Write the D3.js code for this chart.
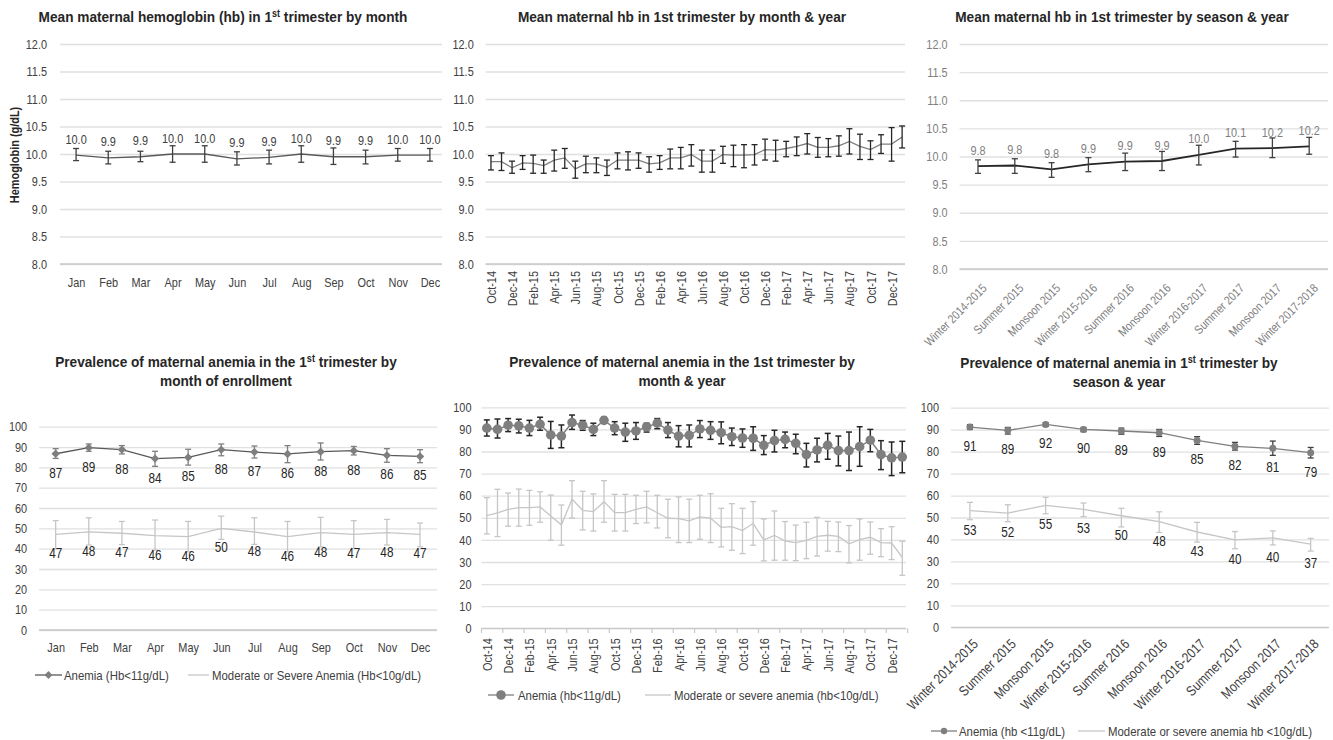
<!DOCTYPE html>
<html><head><meta charset="utf-8">
<script src="https://cdn.jsdelivr.net/npm/d3@7"></script>
<style>
body{margin:0;background:#fff}
svg{display:block}
text{font-family:"Liberation Sans",Arial,sans-serif}
</style>
</head><body>
<svg id="c" width="1333" height="740"></svg>
<script>
// ---------- DATA ----------
const months = ["Jan","Feb","Mar","Apr","May","Jun","Jul","Aug","Sep","Oct","Nov","Dec"];
const hbMonth   = [9.98,9.93,9.95,10.0,10.0,9.91,9.94,10.0,9.95,9.95,9.98,9.98];
const hbMonthHi = [10.10,10.05,10.05,10.15,10.15,10.04,10.07,10.15,10.11,10.07,10.10,10.10];
const hbMonthLo = [9.88,9.82,9.86,9.85,9.85,9.80,9.82,9.85,9.81,9.82,9.87,9.87];
const hbMonthLabels = ["10.0","9.9","9.9","10.0","10.0","9.9","9.9","10.0","9.9","9.9","10.0","10.0"];

const monthsYear = ["Oct-14","Nov-14","Dec-14","Jan-15","Feb-15","Mar-15","Apr-15","May-15","Jun-15","Jul-15","Aug-15","Sep-15","Oct-15","Nov-15","Dec-15","Jan-16","Feb-16","Mar-16","Apr-16","May-16","Jun-16","Jul-16","Aug-16","Sep-16","Oct-16","Nov-16","Dec-16","Jan-17","Feb-17","Mar-17","Apr-17","May-17","Jun-17","Jul-17","Aug-17","Sep-17","Oct-17","Nov-17","Dec-17","Jan-18"];
const hbMY   = [9.86,9.86,9.75,9.84,9.83,9.79,9.89,9.93,9.73,9.82,9.82,9.76,9.89,9.89,9.89,9.82,9.84,9.93,9.93,9.99,9.87,9.87,9.99,9.98,9.98,9.99,10.08,10.07,10.10,10.14,10.19,10.12,10.12,10.15,10.23,10.14,10.08,10.18,10.18,10.31];
const hbMYHi = [9.97,10.02,9.87,9.97,9.98,9.89,10.07,10.10,9.87,9.96,9.93,9.89,10.02,10.04,10.02,9.95,9.97,10.09,10.12,10.17,10.07,10.07,10.14,10.16,10.17,10.17,10.27,10.25,10.23,10.31,10.37,10.30,10.28,10.33,10.46,10.36,10.24,10.35,10.48,10.51];
const hbMYLo = [9.71,9.70,9.65,9.72,9.65,9.65,9.69,9.74,9.56,9.66,9.66,9.61,9.73,9.71,9.74,9.67,9.72,9.73,9.73,9.78,9.67,9.67,9.83,9.77,9.75,9.80,9.89,9.87,9.95,9.97,10.00,9.94,9.95,9.96,10.00,9.90,9.90,10.01,9.87,10.11];

const seasons = ["Winter 2014-2015","Summer 2015","Monsoon 2015","Winter 2015-2016","Summer 2016","Monsoon 2016","Winter 2016-2017","Summer 2017","Monsoon 2017","Winter 2017-2018"];
const hbSeason   = [9.83,9.84,9.77,9.86,9.91,9.92,10.03,10.14,10.15,10.18];
const hbSeasonHi = [9.94,9.96,9.89,9.98,10.06,10.09,10.20,10.27,10.33,10.34];
const hbSeasonLo = [9.70,9.70,9.63,9.73,9.75,9.75,9.85,9.99,9.98,10.04];
const hbSeasonLabels = ["9.8","9.8","9.8","9.9","9.9","9.9","10.0","10.1","10.2","10.2"];

const anemiaMonth   = [86.7,89.7,88.7,84.3,84.9,88.7,87.5,86.6,87.7,88.2,85.9,85.4];
const anemiaMonthHi = [89.2,91.5,90.7,87.9,88.9,91.5,90.5,90.7,92.0,90.3,89.2,88.7];
const anemiaMonthLo = [84.4,87.9,86.6,80.5,81.1,85.7,84.6,82.3,83.6,86.1,82.5,82.3];
const anemiaMonthLabels = ["87","89","88","84","85","88","87","86","88","88","86","85"];
const modMonth   = [47.0,48.3,47.6,46.4,45.9,50.0,48.2,45.9,47.9,47.0,47.9,47.0];
const modMonthHi = [53.8,55.2,53.4,54.1,53.4,56.0,55.2,53.4,55.4,53.8,54.4,52.6];
const modMonthLo = [40.0,41.8,42.0,39.3,38.5,44.6,42.1,38.5,40.9,40.2,41.8,40.9];
const modMonthLabels = ["47","48","47","46","46","50","48","46","48","47","48","47"];

const anemiaMY   = [90.6,90.0,91.9,91.6,90.6,92.3,87.5,87.0,93.1,91.9,90.0,94.1,90.6,88.8,89.3,91.1,92.8,89.7,87.0,87.3,90.2,89.6,88.5,86.7,86.1,86.0,82.8,84.9,85.5,83.7,78.6,80.7,82.8,80.4,80.4,82.2,85.1,78.6,77.1,77.5];
const anemiaMYHi = [94.3,94.7,94.9,94.6,94.1,95.5,93.6,92.0,96.5,94.0,92.8,95.5,93.5,92.8,93.1,92.8,94.9,93.1,91.7,92.0,94.0,93.5,93.4,90.6,90.2,91.2,87.2,89.6,88.8,87.8,83.7,86.0,88.2,87.0,88.8,91.2,90.0,84.9,84.3,84.6];
const anemiaMYLo = [87.0,86.1,89.0,88.4,87.2,89.6,81.4,81.7,90.0,89.6,87.2,93.1,87.6,84.6,85.5,88.8,90.3,86.3,82.1,82.1,86.3,85.5,83.5,82.7,81.9,80.5,78.6,79.8,81.7,79.0,73.0,75.3,76.5,73.5,71.4,73.3,79.9,71.8,69.1,70.4];
const modMY   = [51.0,52.2,53.8,54.6,54.6,54.9,50.8,46.8,58.4,53.4,52.8,57.3,52.3,52.3,53.8,54.9,52.3,49.8,49.6,48.6,50.4,49.9,45.7,46.0,44.2,47.5,40.0,42.0,39.5,38.8,39.8,41.6,42.1,41.6,38.2,40.1,41.2,38.8,38.6,32.1];
const modMYHi = [59.1,62.9,61.2,63.0,62.4,61.8,60.3,55.8,66.8,62.0,60.8,66.8,60.6,60.6,60.2,62.0,60.2,58.4,59.5,58.4,60.2,60.9,54.3,56.4,54.3,57.3,49.5,53.1,48.3,46.7,48.0,50.2,48.4,48.1,46.5,49.5,48.1,45.1,46.0,39.4];
const modMYLo = [42.7,41.5,46.2,46.2,46.6,48.0,39.8,37.6,49.9,44.5,44.0,48.0,44.0,44.0,47.4,47.7,45.4,41.0,38.8,38.8,40.3,38.8,36.8,35.3,33.8,37.6,30.5,30.8,30.8,30.6,31.5,32.7,34.9,34.7,29.6,30.8,33.5,32.4,31.1,24.0];

const anemiaSeason   = [91.2,89.7,92.4,90.1,89.4,88.6,85.1,82.4,81.5,79.5];
const anemiaSeasonHi = [92.3,91.0,93.2,91.0,90.7,90.1,86.8,84.2,84.8,81.9];
const anemiaSeasonLo = [90.1,88.0,91.5,89.1,87.9,86.9,83.3,80.7,78.3,77.1];
const anemiaSeasonLabels = ["91","89","92","90","89","89","85","82","81","79"];
const modSeason   = [53.1,52.0,55.5,53.7,50.8,48.1,43.4,39.8,40.7,37.9];
const modSeasonHi = [56.9,55.8,59.2,56.6,54.2,52.6,47.8,43.6,43.9,40.5];
const modSeasonLo = [49.0,48.1,51.7,50.4,45.7,43.2,38.8,35.8,37.5,34.7];
const modSeasonLabels = ["53","52","55","53","50","48","43","40","40","37"];

const hbTicks = [8.0,8.5,9.0,9.5,10.0,10.5,11.0,11.5,12.0];
const pctTicks = [0,10,20,30,40,50,60,70,80,90,100];

// ---------- DRAWING ----------
const svg = d3.select("#c");
const DARK = "#262626", MID = "#404040", GREY = "#7f7f7f", LIGHT = "#c6c6c6";

function title(cx, lines, baseY) {
  lines.forEach((parts, li) => {
    const t = svg.append("text").attr("class", "title").attr("x", cx).attr("y", baseY + li * 19)
      .attr("text-anchor", "middle").attr("font-size", 15).attr("font-weight", "bold").attr("fill", DARK);
    let pend = 0;
    parts.forEach(p => {
      if (p.sup) {
        t.append("tspan").attr("dy", -5).attr("font-size", 10).text(p.t);
        pend = 5;
      } else {
        const ts = t.append("tspan").text(p.t);
        if (pend) { ts.attr("dy", pend); pend = 0; }
      }
    });
  });
}

function frame(o) {
  const x = d3.scalePoint().domain(o.cats).range([o.x0, o.x1]).padding(0.5);
  const y = d3.scaleLinear().domain(o.yDomain).range([o.yB, o.yT]);
  const g = svg.append("g");
  const ya = g.append("g").attr("transform", `translate(${o.x0},0)`)
    .call(d3.axisLeft(y).tickValues(o.ticks).tickFormat(o.fmt).tickSize(-(o.gx1 - o.x0)).tickPadding(o.pad || 12));
  ya.select(".domain").remove();
  ya.selectAll(".tick line").attr("stroke", "#e0e0e0").attr("stroke-width", 1.3);
  ya.selectAll(".tick text").attr("font-size", 13).attr("fill", o.yColor || MID);
  g.append("line").attr("x1", o.x0).attr("x2", o.gx1).attr("y1", o.yB).attr("y2", o.yB)
    .attr("stroke", "#c8c8c8").attr("stroke-width", 1.3);
  const xa = g.append("g").attr("transform", `translate(0,${o.yB})`)
    .call(d3.axisBottom(x).tickSize(0).tickValues(o.xTickValues || o.cats));
  xa.select(".domain").remove();
  xa.selectAll(".tick text").attr("font-size", o.xFont || 13).attr("fill", o.xColor || MID);
  if (o.rot === -90) {
    xa.selectAll(".tick text").attr("x", 0).attr("y", 0).attr("dy", "0.35em")
      .attr("transform", `translate(0,${o.xOff}) rotate(-90)`).style("text-anchor", "end");
  } else if (o.rot === -45) {
    xa.selectAll(".tick text").attr("x", 0).attr("y", 0).attr("dy", "0.35em")
      .attr("transform", `translate(${o.xdx},${o.xOff}) rotate(-45)`).style("text-anchor", "end");
  } else {
    xa.selectAll(".tick text").attr("y", o.xOff).attr("dy", "0.35em");
  }
  return {x, y, g};
}

function series(f, cats, vals, lo, hi, st) {
  const {x, y, g} = f;
  const line = d3.line().x((d, i) => x(cats[i])).y(d => y(d));
  g.append("path").datum(vals).attr("d", line).attr("fill", "none")
    .attr("stroke", st.line).attr("stroke-width", st.lw || 1.3);
  const eb = g.append("g").attr("stroke", st.err).attr("stroke-width", st.ew || 1.3);
  const cw = st.cap || 3;
  cats.forEach((c, i) => {
    const cx = x(c);
    eb.append("line").attr("x1", cx).attr("x2", cx).attr("y1", y(lo[i])).attr("y2", y(hi[i]));
    eb.append("line").attr("x1", cx - cw).attr("x2", cx + cw).attr("y1", y(lo[i])).attr("y2", y(lo[i]));
    eb.append("line").attr("x1", cx - cw).attr("x2", cx + cw).attr("y1", y(hi[i])).attr("y2", y(hi[i]));
  });
  if (st.marker === "circle") {
    g.append("g").selectAll("circle").data(vals).join("circle")
      .attr("cx", (d, i) => x(cats[i])).attr("cy", d => y(d)).attr("r", st.r).attr("fill", st.mfill);
  } else if (st.marker === "diamond") {
    g.append("g").selectAll("path").data(vals).join("path")
      .attr("d", d3.symbol().type(d3.symbolDiamond2).size(st.size))
      .attr("transform", (d, i) => `translate(${x(cats[i])},${y(d)})`).attr("fill", st.mfill);
  }
  if (st.labels) {
    g.append("g").selectAll("text").data(st.labels).join("text")
      .attr("x", (d, i) => x(cats[i])).attr("y", (d, i) => y(vals[i]) + st.ldy)
      .attr("text-anchor", "middle").attr("dy", "0.35em").attr("font-size", st.lfs || 13)
      .attr("fill", st.lcol || MID).text(d => d);
  }
}

function legend(y, items) {
  items.forEach(it => {
    svg.append("line").attr("x1", it.x1).attr("x2", it.x2).attr("y1", y).attr("y2", y)
      .attr("stroke", it.color).attr("stroke-width", 1.3);
    const mx = (it.x1 + it.x2) / 2;
    if (it.marker === "circle") svg.append("circle").attr("cx", mx).attr("cy", y).attr("r", it.r).attr("fill", GREY);
    if (it.marker === "diamond") svg.append("path").attr("d", d3.symbol().type(d3.symbolDiamond2).size(40)())
      .attr("transform", `translate(${mx},${y})`).attr("fill", GREY);
    svg.append("text").attr("x", it.tx).attr("y", y).attr("dy", "0.35em").attr("font-size", 13.6)
      .attr("fill", MID).text(it.text);
  });
}

// Panel 1
title(223, [[{t:"Mean maternal hemoglobin (hb) in 1"},{t:"st",sup:1},{t:" trimester by month"}]], 22);
const p1 = frame({cats: months, x0: 60, x1: 446, gx1: 442, yB: 264, yT: 44, yDomain: [8, 12],
  ticks: hbTicks, fmt: d3.format(".1f"), pad: 13, xOff: 18});
series(p1, months, hbMonth, hbMonthLo, hbMonthHi, {line: "#595959", err: MID, cap: 3,
  labels: hbMonthLabels, ldy: -16, lfs: 13, lcol: MID});
svg.append("text").attr("transform", "translate(14,155) rotate(-90)").attr("text-anchor", "middle")
  .attr("dy", "0.35em").attr("font-size", 13).attr("font-weight", "bold").attr("fill", DARK).text("Hemoglobin (g/dL)");

// Panel 2
title(682, [[{t:"Mean maternal hb in 1st trimester by month & year"}]], 22);
const p2 = frame({cats: monthsYear, x0: 485.7, x1: 907.4, gx1: 905, yB: 264, yT: 44, yDomain: [8, 12],
  ticks: hbTicks, fmt: d3.format(".1f"), pad: 12, rot: -90, xOff: 7,
  xTickValues: monthsYear.filter((d, i) => i % 2 === 0)});
series(p2, monthsYear, hbMY, hbMYLo, hbMYHi, {line: GREY, err: DARK, cap: 3});

// Panel 3
title(1122, [[{t:"Mean maternal hb in 1st trimester by season & year"}]], 22);
const p3 = frame({cats: seasons, x0: 959.6, x1: 1327.6, gx1: 1328, yB: 269, yT: 44, yDomain: [8, 12],
  ticks: hbTicks, fmt: d3.format(".1f"), pad: 12, yColor: GREY, xColor: GREY, rot: -45, xdx: 6, xOff: 17, xFont: 12.3});
series(p3, seasons, hbSeason, hbSeasonLo, hbSeasonHi, {line: DARK, lw: 1.8, err: MID, cap: 3,
  labels: hbSeasonLabels, ldy: -16, lfs: 13, lcol: GREY});

// Panel 4
title(226, [[{t:"Prevalence of maternal anemia in the 1"},{t:"st",sup:1},{t:" trimester by"}],[{t:"month of enrollment"}]], 367);
const p4 = frame({cats: months, x0: 39.1, x1: 436.6, gx1: 437, yB: 630, yT: 426.7, yDomain: [0, 100],
  ticks: pctTicks, fmt: d3.format("d"), pad: 12, xOff: 17});
series(p4, months, modMonth, modMonthLo, modMonthHi, {line: LIGHT, err: LIGHT, cap: 3,
  labels: modMonthLabels, ldy: 19, lfs: 14, lcol: DARK});
series(p4, months, anemiaMonth, anemiaMonthLo, anemiaMonthHi, {line: "#595959", err: GREY, cap: 3,
  marker: "diamond", size: 45, mfill: GREY, labels: anemiaMonthLabels, ldy: 19, lfs: 14, lcol: DARK});
legend(675, [
  {x1: 35, x2: 62, color: "#595959", marker: "diamond", tx: 64, text: "Anemia (Hb<11g/dL)"},
  {x1: 188, x2: 209, color: LIGHT, tx: 212, text: "Moderate or Severe Anemia (Hb<10g/dL)"}]);

// Panel 5
title(682, [[{t:"Prevalence of maternal anemia in the 1st trimester by"}],[{t:"month & year"}]], 367);
const p5 = frame({cats: monthsYear, x0: 481.5, x1: 907.6, gx1: 906, yB: 628.3, yT: 407.3, yDomain: [0, 100],
  ticks: pctTicks, fmt: d3.format("d"), pad: 10, rot: -90, xOff: 10,
  xTickValues: monthsYear.filter((d, i) => i % 2 === 0)});
{
  const step = p5.x.step();
  p5.g.append("g").selectAll("line").data(monthsYear.filter((d, i) => i % 2 === 0).concat(["__end"]))
    .join("line")
    .attr("x1", (d, i) => 481.5 + i * 2 * step).attr("x2", (d, i) => 481.5 + i * 2 * step)
    .attr("y1", 628.3).attr("y2", 633).attr("stroke", "#c8c8c8").attr("stroke-width", 1.2);
}
series(p5, monthsYear, modMY, modMYLo, modMYHi, {line: LIGHT, err: LIGHT, cap: 3});
series(p5, monthsYear, anemiaMY, anemiaMYLo, anemiaMYHi, {line: GREY, lw: 1.5, err: DARK, ew: 1.5, cap: 3,
  marker: "circle", r: 4.8, mfill: GREY});
legend(695, [
  {x1: 488, x2: 514, color: GREY, marker: "circle", r: 4.8, tx: 518, text: "Anemia (hb<11g/dL)"},
  {x1: 645, x2: 671, color: LIGHT, tx: 674, text: "Moderate or severe anemia (hb<10g/dL)"}]);

// Panel 6
title(1119, [[{t:"Prevalence of maternal anemia in 1"},{t:"st",sup:1},{t:" trimester by"}],[{t:"season & year"}]], 368);
const p6 = frame({cats: seasons, x0: 951, x1: 1329.6, gx1: 1329, yB: 627.3, yT: 407.7, yDomain: [0, 100],
  ticks: pctTicks, fmt: d3.format("d"), pad: 12, rot: -45, xdx: 5, xOff: 14, xFont: 14});
series(p6, seasons, modSeason, modSeasonLo, modSeasonHi, {line: LIGHT, err: LIGHT, cap: 3,
  labels: modSeasonLabels, ldy: 19, lfs: 14, lcol: DARK});
series(p6, seasons, anemiaSeason, anemiaSeasonLo, anemiaSeasonHi, {line: GREY, err: MID, cap: 3,
  marker: "circle", r: 3.5, mfill: GREY, labels: anemiaSeasonLabels, ldy: 19, lfs: 14, lcol: DARK});
legend(731, [
  {x1: 931, x2: 957, color: GREY, marker: "circle", r: 3.2, tx: 959, text: "Anemia (hb <11g/dL)"},
  {x1: 1078, x2: 1105, color: LIGHT, tx: 1108, text: "Moderate or severe anemia hb <10g/dL)"}]);

// Narrow the glyphs horizontally (about their anchor) to mimic an Arial Narrow-like face
svg.selectAll("text").each(function () {
  const k = this.classList.contains("title") ? 0.91 : 0.84;
  const x = parseFloat(this.getAttribute("x")) || 0;
  const y = parseFloat(this.getAttribute("y")) || 0;
  const t = this.getAttribute("transform") || "";
  this.setAttribute("transform", `${t} translate(${x},${y}) scale(${k},1) translate(${-x},${-y})`.trim());
});
</script>
</body></html>
